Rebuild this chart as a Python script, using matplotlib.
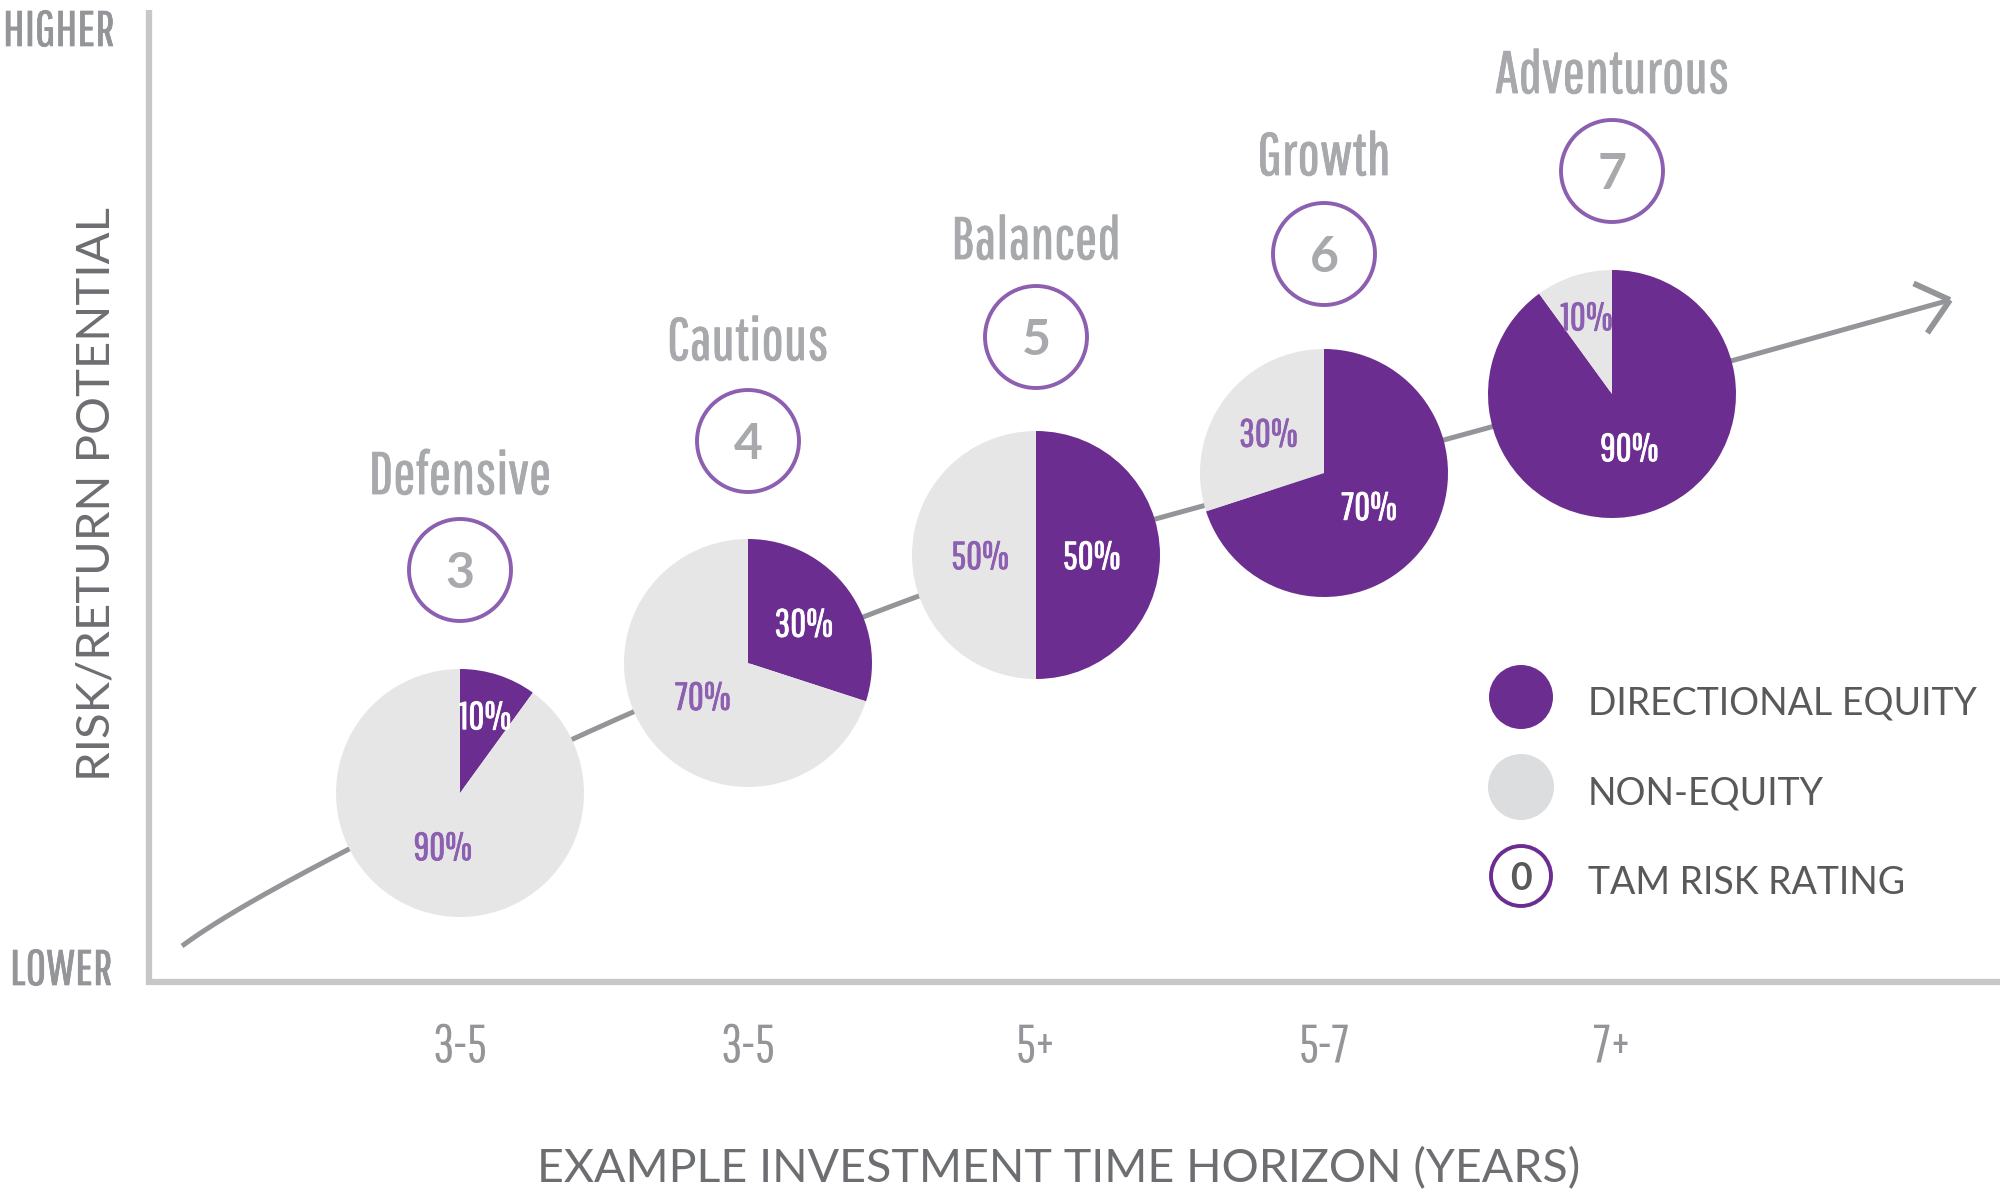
import numpy as np
import matplotlib
matplotlib.use("Agg")
import matplotlib.pyplot as plt
import matplotlib.patheffects as pe
from matplotlib.patches import Circle

# ---------------- data ----------------
profiles = ["Defensive", "Cautious", "Balanced", "Growth", "Adventurous"]
risk_ratings = [3, 4, 5, 6, 7]
equity_pct = [10, 30, 50, 70, 90]
non_equity_pct = [90, 70, 50, 30, 10]
horizons = ["3-5", "3-5", "5+", "5-7", "7+"]
legend_labels = ["DIRECTIONAL EQUITY", "NON-EQUITY", "TAM RISK RATING"]

# ---------------- style ----------------
PURPLE = "#6b2d90"
LPURPLE = "#8c5fb0"
PIEGRAY = "#e6e6e7"
LEGGRAY = "#dcdddf"
NAMEGRAY = "#a7a9ac"
TICKGRAY = "#939598"
TITLEGRAY = "#6d6e71"
LEGTEXT = "#58595b"
AXGRAY = "#c6c7c8"
CURVEGRAY = "#939598"

COND = ["Pathway Gothic One", "Yanone Kaffeesatz", "Roboto Condensed", "DejaVu Sans"]
GILL = ["Lato", "DejaVu Sans"]

def thick(color, w=1.0):
    return [pe.withStroke(linewidth=w, foreground=color)]

W, H = 2000, 1198
fig = plt.figure(figsize=(W / 100, H / 100), dpi=100)
ax = fig.add_axes([0, 0, 1, 1])

def Y(yd):
    return H - yd

# layout (pixel positions, y measured from top)
x0, dx = 460, 288
pie_y = [793, 663, 555, 473, 394]
ring_y = [570, 441, 337, 254, 171]
name_base = [494, 360, 259, 175, 93]
R = 124
RR = 51

xs = [x0 + dx * i for i in range(len(profiles))]

# ---- rising curve with open arrow head (behind pies) ----
pts = np.array([[182, 946]] + [[xs[i], pie_y[i]] for i in range(5)] + [[1950, 300]], float)
pts[:, 1] = H - pts[:, 1]
start_ctrl = np.array([100.0, H - 1060.0])
P = np.vstack([start_ctrl, pts, 2 * pts[-1] - pts[-2]])
curve = []
for k in range(1, len(P) - 2):
    p0, p1, p2, p3 = P[k - 1], P[k], P[k + 1], P[k + 2]
    for t in np.linspace(0, 1, 40, endpoint=False):
        t2, t3 = t * t, t * t * t
        c = 0.5 * ((2 * p1) + (-p0 + p2) * t + (2 * p0 - 5 * p1 + 4 * p2 - p3) * t2
                   + (-p0 + 3 * p1 - 3 * p2 + p3) * t3)
        curve.append(c)
curve.append(pts[-1])
curve = np.array(curve)
ax.plot(curve[:, 0], curve[:, 1], color=CURVEGRAY, lw=3.6, solid_capstyle="butt", zorder=1)
tip = curve[-1]
d = curve[-1] - curve[-6]
d = d / np.hypot(*d)
L = 40
for ang in (np.radians(40), -np.radians(40)):
    rot = np.array([[np.cos(ang), -np.sin(ang)], [np.sin(ang), np.cos(ang)]])
    e = tip - L * (rot @ d)
    ax.plot([e[0], tip[0]], [e[1], tip[1]], color=CURVEGRAY, lw=4.2, solid_capstyle="butt", zorder=1)

# ---- axis lines ----
ax.plot([149, 149], [Y(10), Y(985)], color=AXGRAY, lw=4.5, solid_capstyle="butt", zorder=0)
ax.plot([146, W], [Y(982), Y(982)], color=AXGRAY, lw=4.5, solid_capstyle="butt", zorder=0)

# ---- pies ----
for i in range(5):
    ax.pie([equity_pct[i], non_equity_pct[i]], center=(xs[i], Y(pie_y[i])), radius=R,
           startangle=90, counterclock=False, colors=[PURPLE, PIEGRAY],
           wedgeprops=dict(linewidth=0), frame=True)

def label_pos(cx, cy, start_frac, frac):
    mid = (start_frac + frac / 2) * 2 * np.pi
    dist = (0.45 + max(0.0, 0.5 - frac) * 0.525) * R
    return cx + dist * np.sin(mid), cy + dist * np.cos(mid)

PCT_FS = 28
cap_pct = 0.72 * PCT_FS * 100 / 72
for i in range(5):
    cx, cy = xs[i], Y(pie_y[i])
    fe = equity_pct[i] / 100
    fn = non_equity_pct[i] / 100
    lx, ly = label_pos(cx, cy, 0, fe)
    ax.text(lx, ly - cap_pct / 2, f"{equity_pct[i]}%", ha="center", va="baseline",
            fontsize=PCT_FS, color="white", family=COND, zorder=5,
            path_effects=thick("white", 0.6))
    lx, ly = label_pos(cx, cy, fe, fn)
    ax.text(lx, ly - cap_pct / 2, f"{non_equity_pct[i]}%", ha="center", va="baseline",
            fontsize=PCT_FS, color=LPURPLE, family=COND, zorder=5,
            path_effects=thick(LPURPLE, 0.6))

# ---- risk rings, profile names, horizon ticks ----
RISK_FS = 36
cap_r = 0.72 * RISK_FS * 100 / 72
for i in range(5):
    ax.add_patch(Circle((xs[i], Y(ring_y[i])), RR, facecolor="none", edgecolor=LPURPLE, lw=2.8, zorder=3))
    ax.text(xs[i], Y(ring_y[i]) - cap_r / 2, str(risk_ratings[i]), ha="center", va="baseline",
            fontsize=RISK_FS, color=NAMEGRAY, family=GILL, fontweight="bold", zorder=4)
    ax.text(xs[i], Y(name_base[i]), profiles[i], ha="center", va="baseline",
            fontsize=43, color=NAMEGRAY, family=COND, zorder=4,
            path_effects=thick(NAMEGRAY, 0.6))
    ax.text(xs[i], Y(1062), horizons[i], ha="center", va="baseline",
            fontsize=38, color=TICKGRAY, family=COND, zorder=4)

ax.text(3, Y(46), "HIGHER", ha="left", va="baseline", fontsize=36, color=TICKGRAY, family=COND,
        path_effects=thick(TICKGRAY, 0.5))
ax.text(10, Y(985), "LOWER", ha="left", va="baseline", fontsize=36, color=TICKGRAY, family=COND,
        path_effects=thick(TICKGRAY, 0.5))

ax.text(1059, Y(1182), "EXAMPLE INVESTMENT TIME HORIZON (YEARS)", ha="center", va="baseline",
        fontsize=33.5, color=TITLEGRAY, family=GILL)
ax.text(97, Y(494), "RISK/RETURN POTENTIAL", ha="center", va="center", rotation=90,
        fontsize=34, color=TITLEGRAY, family=GILL)

# ---- legend ----
lx = 1521
ly = [697, 787, 876]
ax.add_patch(Circle((lx, Y(ly[0])), 32, facecolor=PURPLE, edgecolor="none", zorder=3))
ax.add_patch(Circle((lx, Y(ly[1])), 33, facecolor=LEGGRAY, edgecolor="none", zorder=3))
ax.add_patch(Circle((lx, Y(ly[2])), 30, facecolor="none", edgecolor=PURPLE, lw=2.8, zorder=3))
LEG_FS = 27
cap_l = 0.72 * LEG_FS * 100 / 72
ax.text(lx, Y(ly[2]) - 0.72 * 27 * 100 / 72 / 2, "0", ha="center", va="baseline", fontsize=27,
        color=LEGTEXT, family=GILL, fontweight="bold", zorder=4)
for k, lab in enumerate(legend_labels):
    ax.text(1588, Y(ly[k] + 4) - cap_l / 2, lab, ha="left", va="baseline", fontsize=LEG_FS,
            color=LEGTEXT, family=GILL)

ax.set_xlim(0, W)
ax.set_ylim(0, H)
ax.axis("off")

fig.savefig("out.png", dpi=100)
